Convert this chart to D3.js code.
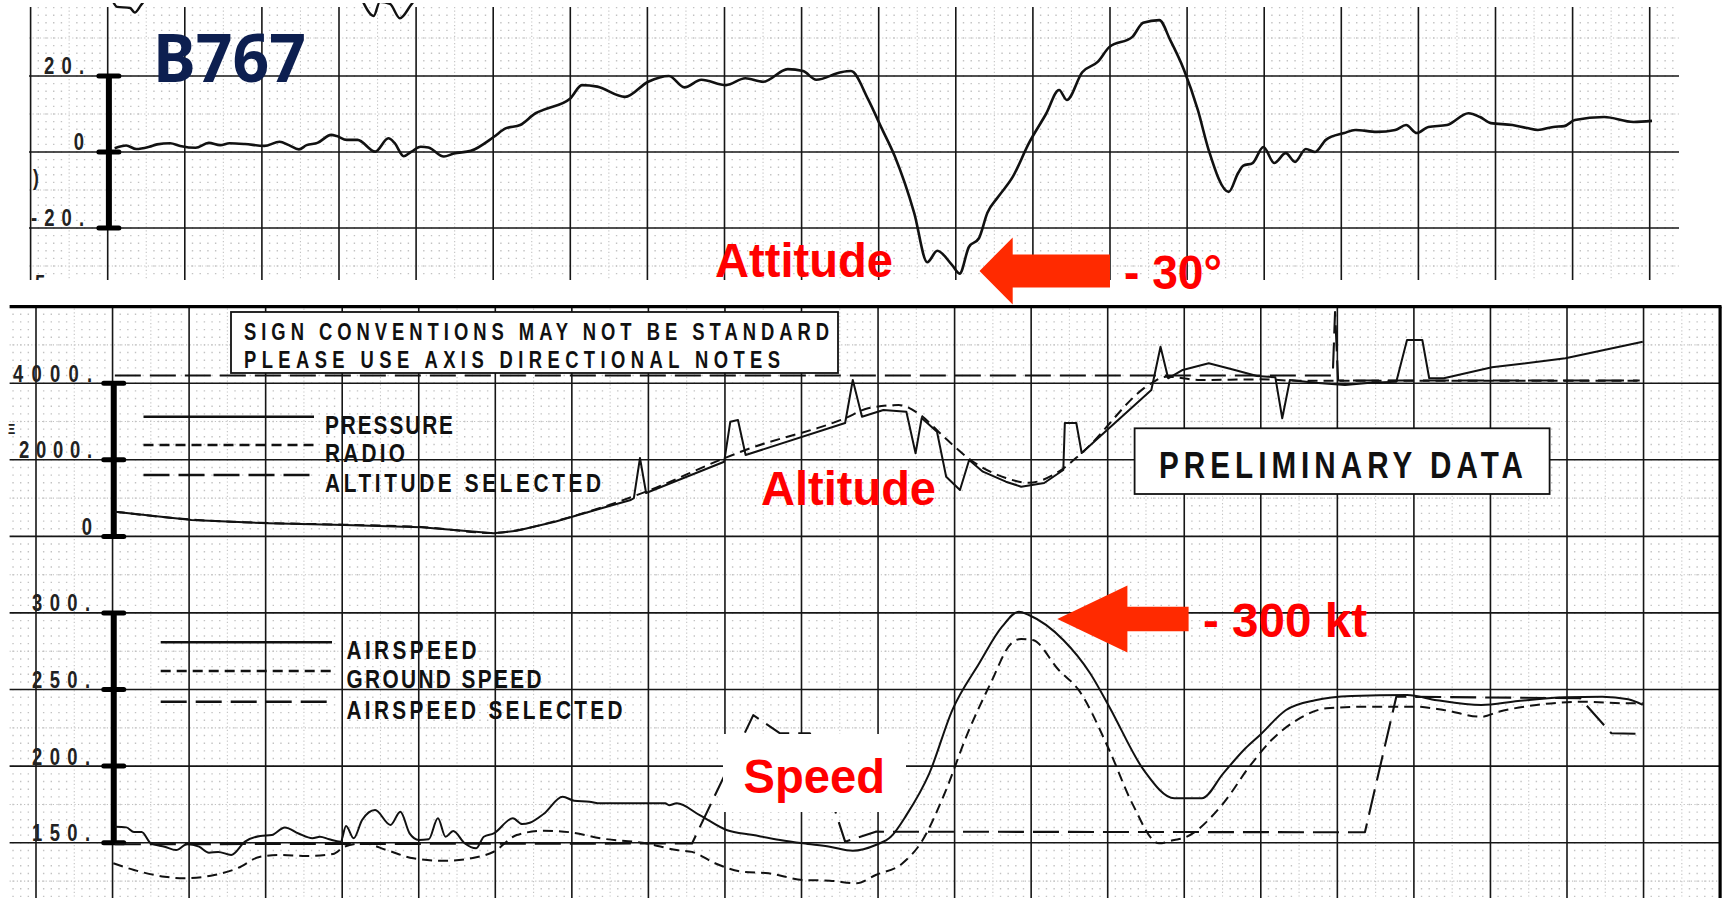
<!DOCTYPE html>
<html><head><meta charset="utf-8">
<script src="https://cdn.jsdelivr.net/npm/d3@7"></script>
<style>html,body{margin:0;padding:0;background:#fff;overflow:hidden}</style>
</head><body>
<svg id="c" width="1723" height="898"></svg>
<script>
// ---------------- DATA (time in chart grid divisions) ----------------
const attitudeTicks = [20, 0, -20];
const altitudeTicks = [4000, 2000, 0];
const speedTicks = [300, 250, 200, 150];
const altitudeLegend = ["PRESSURE", "RADIO", "ALTITUDE SELECTED"];
const speedLegend = ["AIRSPEED", "GROUND SPEED", "AIRSPEED SELECTED"];
const noteLines = ["SIGN CONVENTIONS MAY NOT BE STANDARD", "PLEASE USE AXIS DIRECTIONAL NOTES"];
const stampText = "PRELIMINARY DATA";

// pitch attitude, degrees
const attitude = [[1.09,1.0],[1.24,1.7],[1.37,0.8],[1.54,1.4],[1.64,2.0],[1.81,2.3],[1.94,1.6],[2.14,1.1],[2.31,2.4],[2.46,1.8],[2.58,2.3],[2.78,2.1],[3.03,1.6],[3.23,2.7],[3.35,1.8],[3.48,0.7],[3.58,1.8],[3.72,2.4],[3.90,4.5],[3.97,4.2],[4.10,3.2],[4.24,3.2],[4.47,0.1],[4.64,3.6],[4.72,2.4],[4.84,-1.1],[4.94,0.1],[5.06,1.4],[5.16,1.2],[5.36,-1.2],[5.49,-0.4],[5.71,0.3],[6.01,4.0],[6.16,6.2],[6.35,7.1],[6.55,10.2],[6.65,11.1],[7.00,14.1],[7.15,17.6],[7.35,17.2],[7.71,14.5],[8.01,18.5],[8.28,20.0],[8.48,17.0],[8.70,19.0],[9.02,17.6],[9.27,19.4],[9.50,18.5],[9.82,21.8],[10.02,21.3],[10.19,19.0],[10.51,21.0],[10.64,21.3],[10.86,14.0],[11.03,6.6],[11.21,-1.2],[11.46,-16.0],[11.63,-29.0],[11.76,-26.0],[11.95,-29.7],[12.05,-32.0],[12.17,-25.0],[12.30,-22.7],[12.41,-16.0],[12.55,-11.8],[12.74,-6.5],[12.95,2.4],[13.17,10.0],[13.34,16.3],[13.44,13.7],[13.64,21.0],[13.84,23.7],[13.99,27.6],[14.29,30.3],[14.43,34.0],[14.64,34.7],[14.78,29.5],[14.96,21.6],[15.14,11.0],[15.28,0.5],[15.54,-10.5],[15.66,-5.6],[15.73,-3.6],[15.85,-2.9],[15.99,1.3],[16.13,-2.9],[16.28,-0.3],[16.40,-2.6],[16.54,0.8],[16.66,0.0],[16.80,3.2],[17.04,5.0],[17.18,5.8],[17.46,5.3],[17.70,5.8],[17.84,7.1],[17.98,5.0],[18.13,6.6],[18.37,7.1],[18.65,10.2],[18.80,9.2],[18.94,7.6],[19.22,7.1],[19.41,6.3],[19.55,5.8],[19.75,6.6],[19.89,6.8],[20.03,8.4],[20.41,9.2],[20.79,7.9],[21.03,8.2]];
// cut-off trace visible at the very top edge
const upperTraceA = [[1.06,40],[1.12,38.2],[1.29,37.9],[1.35,36.7],[1.43,38.6],[1.50,40.5]];
const upperTraceB = [[4.30,40],[4.45,35.8],[4.53,39.5],[4.66,39.0],[4.79,35.2],[4.93,38.6],[5.00,40.5]];

// altitude, ft
const pressureAlt = [[1.03,645],[2.03,428],[3.03,342],[4.03,298],[5.03,238],[5.98,81],[6.28,149],[6.78,384],[7.41,750],[7.77,950],[7.81,1000],[7.89,2047],[7.97,1133],[8.99,1950],[9.07,2995],[9.17,3040],[9.27,2125],[10.57,2960],[10.67,4084],[10.79,3126],[11.07,3300],[11.37,3256],[11.49,2170],[11.57,3090],[11.77,2734],[11.89,1559],[12.07,1211],[12.19,1995],[12.37,1690],[12.67,1428],[12.87,1298],[13.17,1394],[13.42,1734],[13.44,2960],[13.59,2960],[13.66,2177],[14.57,3822],[14.69,4953],[14.79,4128],[14.98,4345],[15.32,4520],[15.66,4345],[15.95,4188],[16.19,4154],[16.28,3084],[16.38,4084],[16.71,4013],[17.10,3953],[17.43,4013],[17.77,4040],[17.91,5128],[18.11,5128],[18.20,4128],[18.39,4128],[19.02,4415],[19.98,4650],[20.99,5084]];
const radioAlt = [[1.03,645],[2.03,440],[3.03,350],[4.03,305],[5.03,245],[5.98,90],[6.28,160],[6.78,395],[7.41,770],[7.97,1170],[8.99,2040],[9.26,2250],[10.57,3085],[10.87,3345],[11.27,3430],[11.52,3220],[11.86,2600],[12.21,1995],[12.67,1525],[12.97,1400],[13.36,1690],[13.66,2177],[14.57,3997],[14.76,4170],[15.21,4084],[15.99,4100],[16.47,4066],[20.94,4066]];
const selectedAlt = [[1.03,4200],[16.94,4200],[16.97,5860],[17.01,4070],[20.95,4070]];

// speeds, kt
const airspeed = [[1.03,160.4],[1.18,160],[1.28,157],[1.38,157],[1.50,149.6],[1.68,147.4],[1.83,145.2],[1.98,149.2],[2.13,147.4],[2.26,143.5],[2.38,144],[2.55,142],[2.73,150.7],[2.93,154.4],[3.08,155],[3.25,160],[3.43,156],[3.61,152.9],[3.71,153.9],[3.83,152.2],[3.98,150.7],[4.05,160.9],[4.15,152.9],[4.26,164.8],[4.43,171.3],[4.63,161.6],[4.76,170.2],[4.88,156.1],[5.00,151.8],[5.13,152.2],[5.25,165.9],[5.35,153.9],[5.45,157.6],[5.60,149.6],[5.75,146.3],[5.85,153.9],[5.98,156.1],[6.23,165.9],[6.35,162.2],[6.45,163],[6.63,168.7],[6.88,180],[7.03,177.4],[7.23,176.8],[7.37,175.7],[8.22,175.7],[8.27,174.5],[8.37,175.7],[8.67,168],[9.02,158.3],[9.37,155],[9.72,151.8],[10.02,149.6],[10.37,147.4],[10.67,144.8],[10.97,148.5],[11.17,154],[11.37,168],[11.67,195.3],[11.97,236.6],[12.32,267],[12.62,291],[12.84,300.8],[12.97,298.6],[13.42,282.3],[13.77,260.6],[14.02,238.8],[14.47,197.5],[14.87,179],[15.23,179],[15.51,195.3],[15.80,211.6],[15.99,220.3],[16.33,236.6],[16.71,243],[17.19,245.7],[17.91,246.4],[18.30,243],[18.88,239.9],[19.36,242.5],[19.98,244.9],[20.46,245.3],[20.80,243.6],[20.99,239.9]];
const groundSpeed = [[1.01,136.6],[1.28,132.2],[1.68,127.8],[1.93,126.8],[2.33,128.9],[2.63,133.3],[2.93,140.9],[3.18,142],[3.53,141.3],[3.88,142.6],[4.03,147.4],[4.28,149.6],[4.58,145.2],[4.93,139.8],[5.33,138.2],[5.68,139.8],[5.98,144.1],[6.28,155],[6.63,157.8],[6.98,156.8],[7.37,152.9],[7.97,149.6],[8.37,145.2],[8.57,144],[8.87,136.6],[9.22,131.1],[9.57,130],[10.02,125.7],[10.37,125.2],[10.72,123.5],[10.97,128.9],[11.32,136.6],[11.57,150.7],[11.87,182.2],[12.17,221.4],[12.47,254],[12.74,280.1],[12.87,283],[13.02,282.3],[13.36,262.7],[13.62,249.7],[14.02,210.5],[14.32,175.7],[14.67,149.6],[14.87,151.8],[14.98,152.9],[15.51,175.7],[15.85,199.6],[16.14,217],[16.47,230],[16.86,237.7],[17.43,238.8],[18.01,238.8],[18.39,236.6],[18.88,232.2],[19.11,235.5],[19.60,239.9],[20.22,242],[20.80,241],[20.99,241]];
const selectedSpeed = [[1.03,149],[8.57,149.5],[9.37,233.3],[9.72,221.4],[10.11,221.4],[10.57,150.7],[10.97,157.2],[17.36,156.8],[17.77,245.3],[20.17,244.3],[20.58,221.4],[20.99,221]];

// ---------------- LAYOUT ----------------
const svg = d3.select('#c');
const defs = svg.append('defs');
const INK = '#161616', DOT = '#c2c2c2';
const LBL = "'Liberation Sans',Arial,Helvetica,sans-serif";
const RED_FONT = "'Liberation Sans',Arial,Helvetica,sans-serif";
const SQ = 0.8; // horizontal squeeze of the plotter lettering

const TOP = {x0: 29, x1: 1679, y0: 7, y1: 280};
const BOT = {x0: 9.6, x1: 1720, y0: 305, y1: 898};

const xTop = d3.scaleLinear().domain([0, 21]).range([30.6, 1649.7]);
const yAtt = d3.scaleLinear().domain([-20, 20]).range([228, 76]);
const xBot = d3.scaleLinear().domain([0, 22]).range([36, 1720.1]);
const yAlt = d3.scaleLinear().domain([0, 4000]).range([536.4, 383.2]);
const ySpd = d3.scaleLinear().domain([150, 300]).range([842.7, 612.9]);

defs.append('clipPath').attr('id','clipTop').append('rect')
  .attr('x', TOP.x0).attr('y', 3).attr('width', TOP.x1 - TOP.x0).attr('height', TOP.y1 - 3);
defs.append('clipPath').attr('id','clipTopEdge').append('rect')
  .attr('x', 0).attr('y', 0).attr('width', 200).attr('height', TOP.y1);

// plotter-style condensed lettering: squeezed glyphs, stretched spacing
function plotText(g, x, y, str, width, size, anchor, fill) {
  const t = g.append('text')
    .attr('transform', `translate(${x},${y}) scale(${SQ},1)`)
    .attr('font-family', LBL).attr('font-weight', 'bold').attr('font-size', size)
    .attr('fill', fill || '#111').attr('text-anchor', anchor || 'start').text(str);
  if (width) t.attr('textLength', width / SQ).attr('lengthAdjust', 'spacing');
  return t;
}

function dotColumns(g, xs, yFirst, yEnd, pitch) {
  const a = 1.4;
  g.selectAll(null).data(xs).join('line')
    .attr('x1', d => d).attr('x2', d => d)
    .attr('y1', yFirst - a / 2).attr('y2', yEnd)
    .attr('stroke', DOT).attr('stroke-width', 1.4)
    .attr('stroke-dasharray', `${a} ${pitch - a}`);
}
function dottedV(g, xs, y0, y1) {
  g.selectAll(null).data(xs).join('line')
    .attr('x1', d => d).attr('x2', d => d).attr('y1', y0).attr('y2', y1)
    .attr('stroke', DOT).attr('stroke-width', 1.1).attr('stroke-dasharray', '1.2 2.4');
}
function dottedH(g, ys, x0, x1) {
  g.selectAll(null).data(ys).join('line')
    .attr('y1', d => d).attr('y2', d => d).attr('x1', x0).attr('x2', x1)
    .attr('stroke', DOT).attr('stroke-width', 1.1).attr('stroke-dasharray', '1.2 2.4');
}

// ================= TOP PIECE : ATTITUDE =================
const gT = svg.append('g');
{
  const minorT = d3.range(0, 215).filter(i => i % 5 !== 0 && xTop(i / 10) < TOP.x1).map(i => xTop(i / 10));
  const halfT = d3.range(0, 22).map(i => xTop(i + 0.5)).filter(x => x < TOP.x1);
  dotColumns(gT, minorT, yAtt(38), TOP.y1, yAtt(36) - yAtt(38));
  dottedV(gT, halfT, TOP.y0, TOP.y1);
  dottedH(gT, [30, 10, -10, -30].map(yAtt), TOP.x0, TOP.x1);
  // major grid
  gT.selectAll(null).data(d3.range(0, 22)).join('line')
    .attr('x1', d => xTop(d)).attr('x2', d => xTop(d)).attr('y1', TOP.y0).attr('y2', TOP.y1)
    .attr('stroke', INK).attr('stroke-width', 1.6);
  gT.selectAll(null).data(attitudeTicks).join('line')
    .attr('x1', TOP.x0).attr('x2', TOP.x1).attr('y1', d => yAtt(d)).attr('y2', d => yAtt(d))
    .attr('stroke', INK).attr('stroke-width', 1.6);
  // axis bar
  const bx = xTop(1) + 1.2;
  gT.append('line').attr('x1', bx).attr('x2', bx).attr('y1', yAtt(20)).attr('y2', yAtt(-20))
    .attr('stroke', '#000').attr('stroke-width', 6);
  gT.selectAll(null).data(attitudeTicks).join('line')
    .attr('x1', bx - 10).attr('x2', bx + 10).attr('y1', d => yAtt(d)).attr('y2', d => yAtt(d))
    .attr('stroke', '#000').attr('stroke-width', 5).attr('stroke-linecap', 'round');
  // tick labels
  const tw = {20: 40, 0: 0, '-20': 53};
  attitudeTicks.forEach(d => plotText(gT, 84, yAtt(d) - 2, d === 0 ? '0' : d + '.', tw[d], 23, 'end', '#222'));
  plotText(gT, 33, 185, ')', 0, 22, 'start', '#222');
  plotText(gT.append('g').attr('clip-path', 'url(#clipTopEdge)'), 35, 292, '5', 0, 23, 'start', '#222');
  // traces
  const lt = d3.line().x(d => xTop(d[0])).y(d => yAtt(d[1])).curve(d3.curveMonotoneX);
  const gc = gT.append('g').attr('clip-path', 'url(#clipTop)');
  [upperTraceA, upperTraceB].forEach(s => gc.append('path').attr('d', lt(s))
    .attr('fill', 'none').attr('stroke', '#111').attr('stroke-width', 2.4));
  gc.append('path').attr('d', lt(attitude)).attr('fill', 'none')
    .attr('stroke', '#111').attr('stroke-width', 2.6).attr('stroke-linejoin', 'round');
  // B767 label
  gT.append('text').attr('x', 153).attr('y', 82)
    .attr('font-family', "'Comic Sans MS','Noto Sans',Lato,sans-serif").attr('font-weight', 'bold')
    .attr('font-size', 67).attr('fill', '#0d1f50').attr('textLength', 153).attr('lengthAdjust', 'spacingAndGlyphs')
    .text('B767');
}

// ================= BOTTOM PIECE : ALTITUDE & SPEED =================
const gB = svg.append('g');
{
  const minorB = d3.range(-3, 221).filter(i => ((i % 5) + 5) % 5 !== 0).map(i => xBot(i / 10)).filter(x => x > BOT.x0 && x < BOT.x1);
  const halfB = d3.range(0, 22).map(i => xBot(i + 0.5));
  dotColumns(gB, minorB, yAlt(5800), BOT.y1, yAlt(0) - yAlt(200));
  dottedV(gB, halfB, BOT.y0, BOT.y1);
  dottedH(gB, [5000, 3000, 1000, -1000, -3000, -5000, -7000, -9000].map(yAlt), BOT.x0, BOT.x1);
  // major grid
  gB.selectAll(null).data(d3.range(0, 22)).join('line')
    .attr('x1', d => xBot(d)).attr('x2', d => xBot(d)).attr('y1', BOT.y0).attr('y2', BOT.y1)
    .attr('stroke', INK).attr('stroke-width', 1.6);
  const hY = altitudeTicks.map(yAlt).concat(speedTicks.map(ySpd));
  gB.selectAll(null).data(hY).join('line')
    .attr('x1', BOT.x0).attr('x2', BOT.x1).attr('y1', d => d).attr('y2', d => d)
    .attr('stroke', INK).attr('stroke-width', 1.6);
  // frame (top & right)
  gB.append('line').attr('x1', BOT.x0).attr('x2', BOT.x1 + 1.5).attr('y1', yAlt(6000)).attr('y2', yAlt(6000))
    .attr('stroke', '#000').attr('stroke-width', 3.2);
  gB.append('line').attr('x1', xBot(22)).attr('x2', xBot(22)).attr('y1', yAlt(6000)).attr('y2', BOT.y1)
    .attr('stroke', '#000').attr('stroke-width', 3.2);

  // axis bars
  const bx = xBot(1) + 1.2;
  function bar(y0, y1, ticks) {
    gB.append('line').attr('x1', bx).attr('x2', bx).attr('y1', y0).attr('y2', y1)
      .attr('stroke', '#000').attr('stroke-width', 6);
    gB.selectAll(null).data(ticks).join('line')
      .attr('x1', bx - 10).attr('x2', bx + 10).attr('y1', d => d).attr('y2', d => d)
      .attr('stroke', '#000').attr('stroke-width', 5).attr('stroke-linecap', 'round');
  }
  bar(yAlt(4000), yAlt(0), altitudeTicks.map(yAlt));
  bar(ySpd(300), ySpd(150), speedTicks.map(ySpd));

  // tick labels
  const altW = {4000: 79, 2000: 73, 0: 0};
  altitudeTicks.forEach(d => plotText(gB, 92, yAlt(d) - 1.5, d === 0 ? '0' : d + '.', altW[d], 23, 'end', '#222'));
  speedTicks.forEach(d => plotText(gB, 90, ySpd(d) - 1.5, d + '.', 58, 23, 'end', '#222'));
  plotText(gB, 8, 434, 'Ξ', 0, 14, 'start', '#222');

  // note box
  gB.append('rect').attr('x', 231).attr('y', 312).attr('width', 607).attr('height', 61)
    .attr('fill', '#fff').attr('stroke', '#111').attr('stroke-width', 1.8);
  const nl = [585, 536];
  noteLines.forEach((s, i) => plotText(gB, 244, 339.5 + i * 28.5, s, nl[i], 23));
  // preliminary stamp
  gB.append('rect').attr('x', 1134.6).attr('y', 428.3).attr('width', 415).attr('height', 65.7)
    .attr('fill', '#fff').attr('stroke', '#111').attr('stroke-width', 1.8);
  plotText(gB, 1159, 478, stampText, 364, 37);

  const dashes = [null, '10 6', '26 9'];
  // legends
  function legend(names, x0, x1, tx, ly, widths) {
    names.forEach((n, i) => {
      const l = gB.append('line').attr('x1', x0).attr('x2', x1).attr('y1', ly[i]).attr('y2', ly[i])
        .attr('stroke', '#111').attr('stroke-width', 2.4);
      if (dashes[i]) l.attr('stroke-dasharray', dashes[i]);
      plotText(gB, tx, ly[i] + 17, n, widths[i], 26);
    });
  }
  legend(altitudeLegend, 143.5, 314, 325, [416.7, 445, 475], [128, 80, 276]);
  legend(speedLegend, 160.7, 332, 346.5, [642.3, 671, 701.7], [130, 195, 276]);

  // traces
  const la = d3.line().x(d => xBot(d[0])).y(d => yAlt(d[1]));
  const las = d3.line().x(d => xBot(d[0])).y(d => yAlt(d[1])).curve(d3.curveMonotoneX);
  const ls = d3.line().x(d => xBot(d[0])).y(d => ySpd(d[1]));
  const lss = d3.line().x(d => xBot(d[0])).y(d => ySpd(d[1])).curve(d3.curveMonotoneX);
  function trace(d, dash, w) {
    const p = gB.append('path').attr('d', d).attr('fill', 'none').attr('stroke', '#111')
      .attr('stroke-width', w || 2.0).attr('stroke-linejoin', 'round');
    if (dash) p.attr('stroke-dasharray', dash);
  }
  trace(la(selectedAlt), dashes[2], 2.1);
  trace(las(radioAlt), dashes[1], 2.0);
  trace(la(pressureAlt), null, 2.0);
  trace(ls(selectedSpeed), dashes[2], 2.1);
  trace(lss(groundSpeed), dashes[1], 2.0);
  trace(lss(airspeed), null, 2.0);
}

// ================= RED ANNOTATIONS =================
const gR = svg.append('g');
const RED = '#ff0000', ARROW = '#ff2a00';
function redText(x, y, s, w) {
  gR.append('text').attr('x', x).attr('y', y).attr('font-family', RED_FONT).attr('font-weight', 'bold')
    .attr('font-size', 48).attr('fill', RED).attr('textLength', w).attr('lengthAdjust', 'spacingAndGlyphs').text(s);
}
redText(715, 277, 'Attitude', 178);
redText(1124, 288.5, '- 30°', 98);
redText(761, 505, 'Altitude', 175);
// speed label with white box
gR.append('rect').attr('x', 723).attr('y', 734).attr('width', 183).attr('height', 78).attr('fill', '#fff');
redText(743.5, 793, 'Speed', 141.5);
redText(1203, 636.7, '- 300 kt', 164);

function arrow(tipX, tipY, headX, headHalf, shaftEnd, shaftHalf) {
  const pts = [[tipX, tipY], [headX, tipY - headHalf], [headX, tipY - shaftHalf], [shaftEnd, tipY - shaftHalf],
    [shaftEnd, tipY + shaftHalf], [headX, tipY + shaftHalf], [headX, tipY + headHalf]];
  gR.append('polygon').attr('points', pts.map(p => p.join(',')).join(' ')).attr('fill', ARROW);
}
arrow(979.5, 271, 1012.7, 33.6, 1110, 16.6);
arrow(1057.3, 619, 1127.4, 33.4, 1188.6, 12.2);
</script>
</body></html>
